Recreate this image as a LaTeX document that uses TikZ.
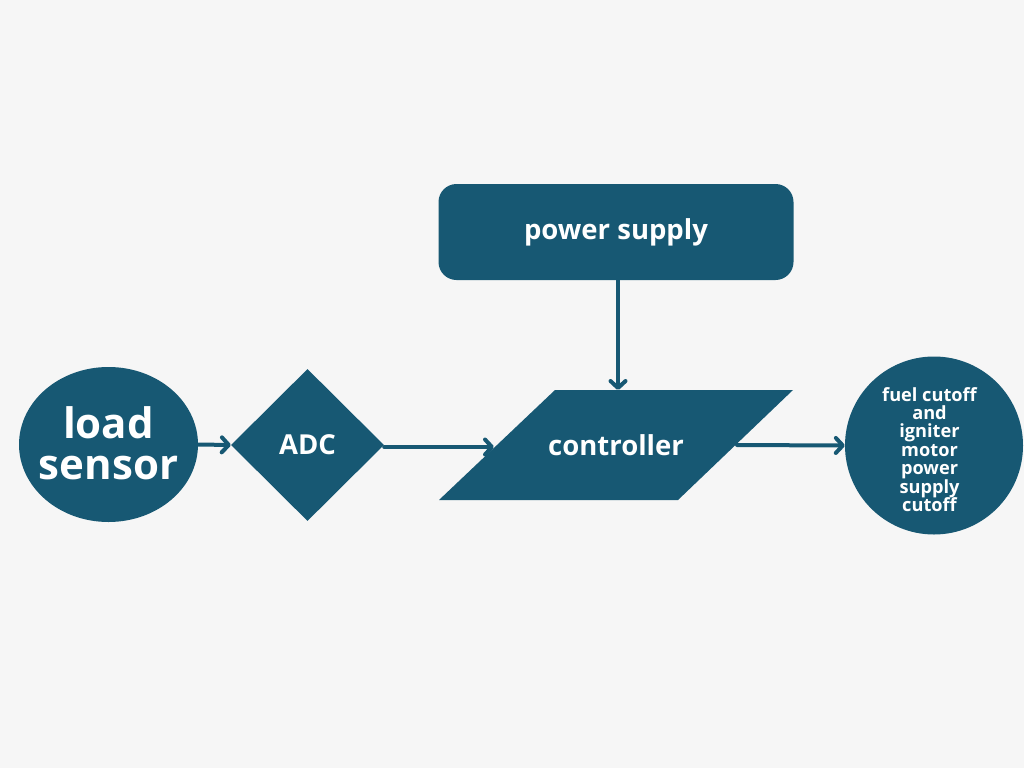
\documentclass[tikz,border=0pt]{standalone}
\usepackage{fontspec}
\setmainfont{Open Sans}
\usetikzlibrary{shapes.geometric,arrows.meta}
\definecolor{shapefill}{HTML}{175873}
\definecolor{bgcol}{HTML}{F6F6F6}
\tikzset{
  shp/.style={fill=shapefill, text=white, font=\bfseries\fontsize{27.5}{30}\selectfont, align=center, inner sep=0pt},
  lbl/.style={text=white, align=center, inner sep=0pt},
  arr/.style={draw=shapefill, line width=4pt, line cap=round, -{Straight Barb[length=7pt,width=15pt,round]}}
}
\begin{document}
\begin{tikzpicture}[x=1pt,y=-1pt]
\fill[bgcol] (0,0) rectangle (1024,768);
\useasboundingbox (0,0) rectangle (1024,768);
% load sensor
\node[shp, ellipse, minimum width=179pt, minimum height=155pt,
  label={[lbl, font=\bfseries\fontsize{42}{42}\selectfont, yshift=1pt]center:load\\[-1pt]sensor}] (ls) at (108.5,444.5) {};
% ADC
\node[shp, diamond, minimum width=153pt, minimum height=152pt] (adc) at (307.5,445) {ADC};
% controller (parallelogram)
\fill[shapefill] (555,390) coordinate (ctrl-tl) -- (793,390) coordinate (ctrl-tr)
  -- (678,500) coordinate (ctrl-br) -- (439,500) coordinate (ctrl-bl) -- cycle;
\coordinate (ctrl-w) at (494,447);
\coordinate (ctrl-n) at (618,390);
\coordinate (ctrl-e) at (737,445);
\node[lbl, font=\bfseries\fontsize{27.5}{30}\selectfont] (ctrl) at (616,445) {controller};
% power supply
\node[shp, rectangle, rounded corners=18pt, minimum width=355pt, minimum height=96pt] (ps) at (616,232) {power supply};
% output
\node[shp, circle, minimum size=178pt,
  label={[lbl, font=\bfseries\fontsize{18.2}{18.4}\selectfont, xshift=-4.5pt, yshift=-4pt]center:fuel cutoff\\and\\igniter\\motor\\power\\supply\\cutoff}] (out) at (934,445.5) {};
% connectors
\draw[arr] (ls.east) -- (adc.west);
\draw[arr] (adc.east |- ctrl-w) -- (ctrl-w);
\draw[arr] (ps.south -| ctrl-n) -- (ctrl-n);
\draw[arr] (ctrl-e) -- (out.west);
\end{tikzpicture}
\end{document}
